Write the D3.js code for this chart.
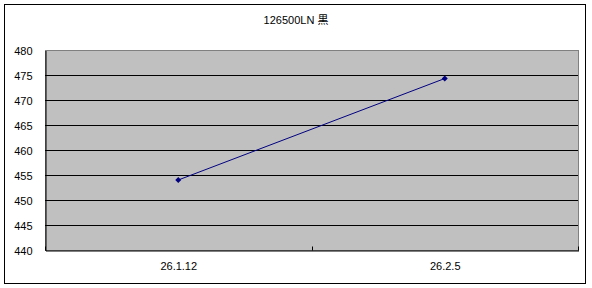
<!DOCTYPE html>
<html>
<head>
<meta charset="utf-8">
<title>126500LN 黒</title>
<script src="https://d3js.org/d3.v7.min.js"></script>
<style>
    html, body { margin: 0; padding: 0; background: white; }
    svg { display: block; }
    text { font-family: "Liberation Sans", "Noto Sans CJK JP", sans-serif; fill: black; }
    .tick text { font-size: 11px; }
    .grid line { stroke: black; stroke-width: 1px; }
</style>
</head>
<body>
<svg width="592" height="288"></svg>
<script>
    const title = '126500LN 黒';
    const categories = ['26.1.12', '26.2.5'];
    const values = [454, 474.3];
    const yTicks = [440, 445, 450, 455, 460, 465, 470, 475, 480];

    let svg = d3.select('svg');
    let margin = {left: 45, top: 50, right: 578, bottom: 250};

    // outer frame
    svg.append('rect')
        .attr('x', 4.5).attr('y', 4.5)
        .attr('width', 581).attr('height', 279)
        .attr('fill', 'white').attr('stroke', 'black');

    let x = d3.scaleBand().domain(categories).range([margin.left, margin.right]);
    let y = d3.scaleLinear().domain([440, 480]).range([margin.bottom, margin.top]);

    // plot area
    svg.append('rect')
        .attr('x', margin.left + 0.5).attr('y', margin.top + 0.5)
        .attr('width', margin.right - margin.left).attr('height', margin.bottom - margin.top)
        .attr('fill', '#c0c0c0').attr('stroke', '#808080');

    // gridlines
    svg.append('g').attr('class', 'grid')
        .selectAll('line')
        .data(yTicks.slice(1, -1))
        .join('line')
        .attr('x1', margin.left).attr('x2', margin.right)
        .attr('y1', d => Math.round(y(d)) + 0.5)
        .attr('y2', d => Math.round(y(d)) + 0.5);

    // y axis
    let yAxis = svg.append('g')
        .attr('transform', `translate(${margin.left + 0.5},0.5)`)
        .call(d3.axisLeft(y).tickValues(yTicks).tickSize(0).tickPadding(13));
    yAxis.select('.domain').attr('stroke', 'black');
    yAxis.selectAll('.tick text').attr('dy', '0.35em');

    // x axis
    let xTickPos = [margin.left, (margin.left + margin.right) / 2, margin.right];
    let xAxis = svg.append('g')
        .attr('transform', `translate(0.5,${margin.bottom + 0.5})`)
        .call(d3.axisBottom(x).tickSize(0).tickPadding(12));
    xAxis.select('.domain').attr('stroke', 'black');
    xAxis.selectAll('.tick text').attr('dy', '0.71em');
    xAxis.selectAll('.xtick')
        .data(xTickPos)
        .join('line')
        .attr('class', 'xtick')
        .attr('x1', d => Math.round(d)).attr('x2', d => Math.round(d))
        .attr('y1', 0).attr('y2', -4)
        .attr('stroke', 'black');

    // series
    let pts = categories.map((c, i) => [x(c) + x.bandwidth() / 2, y(values[i])]);
    svg.append('path')
        .datum(pts)
        .attr('d', d3.line())
        .attr('fill', 'none')
        .attr('stroke', '#000080')
        .attr('stroke-width', 1);

    svg.selectAll('.marker')
        .data(pts)
        .join('path')
        .attr('class', 'marker')
        .attr('transform', d => `translate(${d[0]},${d[1]})`)
        .attr('d', 'M0,-3L3,0L0,3L-3,0Z')
        .attr('fill', '#000080');

    // title
    svg.append('text')
        .attr('x', 296).attr('y', 24)
        .attr('text-anchor', 'middle')
        .style('font-size', '11px')
        .text(title);
</script>
</body>
</html>
